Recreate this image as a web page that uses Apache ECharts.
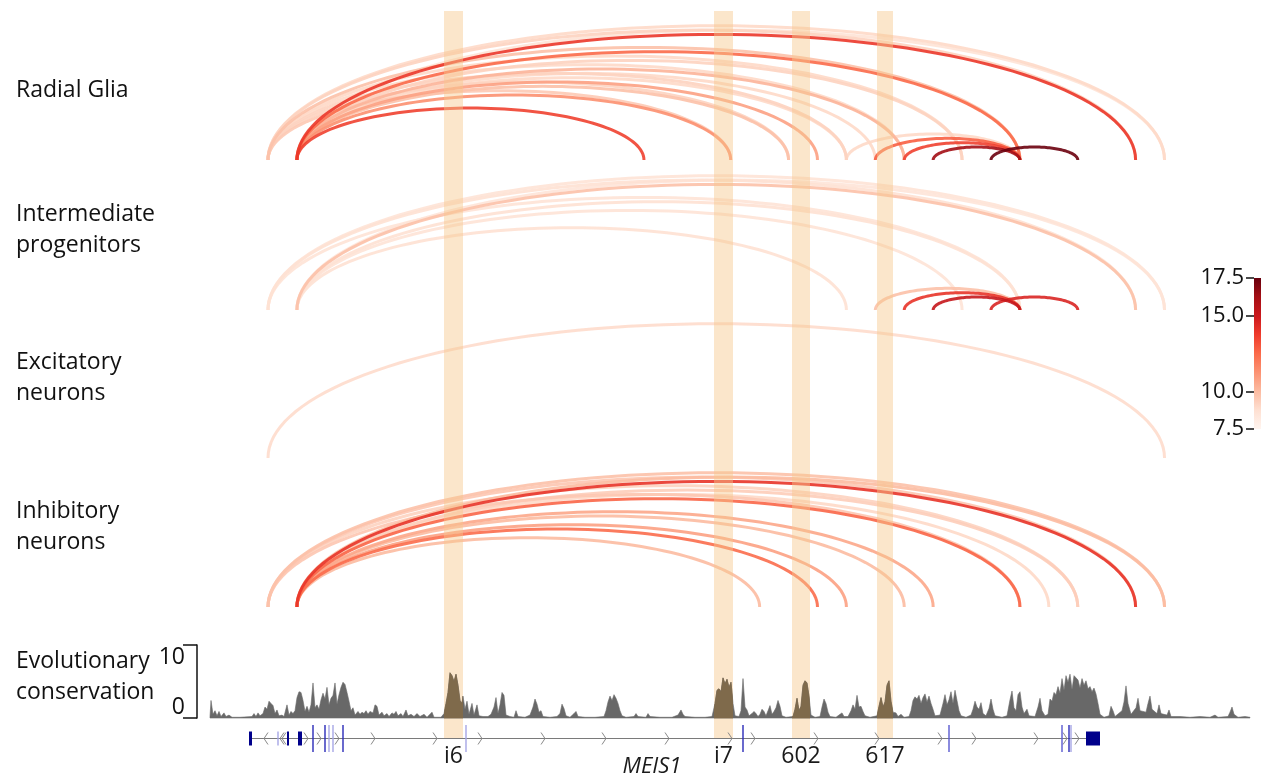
<!DOCTYPE html>
<html><head><meta charset="utf-8">
<script src="https://cdn.jsdelivr.net/npm/echarts@6/dist/echarts.min.js"></script>
<style>html,body{margin:0;padding:0;background:#fff}#c{width:1262px;height:782px}</style>
</head><body><div id="c"></div>
<script>
// ---------- data ----------
const FONT = '"Open Sans", sans-serif';
const PANEL_LABELS = ['Radial Glia', 'Intermediate\nprogenitors', 'Excitatory\nneurons', 'Inhibitory\nneurons'];
const TRACK_LABEL = 'Evolutionary\nconservation';
const GENE_NAME = 'MEIS1';

// region coordinates (relative units); arc anchors are bins
const REGION_MIN = 0, REGION_MAX = 1041;
const BIN_START = 58, BIN_WIDTH = 28.92;

// arcs: [startBin, endBin, score]
const ARCS_RG = [
  [0,31,9.0],[1,31,8.6],[0,30,9.2],[1,30,13.9],[0,26,9.8],[1,26,12.5],[0,24,9.0],[1,24,9.2],
  [0,22,9.0],[1,22,10.2],[1,21,9.0],[0,20,9.2],[1,20,9.0],[1,19,10.8],[0,18,9.2],[1,18,9.8],
  [0,16,9.5],[1,16,11.3],[1,13,13.6],[20,26,9.0],[21,26,12.8],[22,26,13.6],[23,26,16.3],[25,28,17.4]
];
const ARCS_IP = [
  [0,31,8.6],[1,31,8.5],[0,30,8.7],[1,30,9.8],[0,26,8.6],[1,26,8.7],[1,24,8.6],[1,20,8.7],
  [21,26,9.8],[22,26,14.0],[23,26,15.2],[25,28,14.5]
];
const ARCS_EX = [[0,31,8.9]];
const ARCS_IN = [
  [0,31,9.8],[1,31,10.0],[0,30,9.6],[1,30,14.0],[0,28,9.2],[1,28,9.4],[1,27,9.0],[0,26,9.6],
  [1,26,12.6],[1,23,10.6],[1,22,10.0],[1,20,10.8],[1,19,12.4],[1,17,10.0]
];

// highlighted elements: [start, end]
const BANDS = [[234,253],[504,523],[582,600],[667,683]];
const BAND_LABELS = ['i6','i7','602','617'];

// conservation track: [position, score]
const CONS = [
[0,0.2],[1,2.4],[3,0.5],[5,1.0],[7,0.3],[9,0.9],[11,0.2],[14,0.7],[16,0.2],[19,0.4],[22,0.1],[30,0.1],
[42,0.2],[44,0.6],[46,0.2],[48,0.7],[50,0.3],[53,0.6],[55,1.5],[57,1.2],[59,2.3],[61,2.0],[63,1.7],[65,0.6],
[67,1.1],[69,0.3],[72,0.4],[74,0.2],[77,1.8],[79,0.4],[81,0.9],[83,0.6],[85,1.0],[87,2.8],[89,3.6],[91,3.5],
[93,2.4],[95,0.9],[97,1.6],[99,0.8],[101,1.8],[103,4.8],[105,1.4],[107,1.8],[109,1.2],[111,2.5],[113,3.4],
[115,2.6],[117,4.2],[119,1.8],[121,2.7],[123,3.1],[125,4.8],[127,1.9],[129,3.2],[131,4.2],[133,4.9],[135,4.6],
[137,3.5],[139,2.3],[141,1.0],[143,1.4],[145,0.4],[148,0.9],[150,0.5],[152,0.8],[154,0.6],[156,1.0],[158,0.5],
[160,0.9],[163,0.7],[165,1.8],[167,1.6],[169,0.4],[172,0.8],[174,0.3],[177,0.6],[179,0.2],[182,0.7],[184,0.5],
[186,0.9],[188,0.3],[191,0.6],[193,0.2],[196,1.1],[198,0.3],[201,0.5],[204,0.2],[207,0.6],[210,0.2],[214,0.5],
[217,0.1],[222,0.8],[224,0.1],[231,0.1],[234,0.6],[236,2.0],[238,3.5],[240,6.2],[242,5.8],[244,5.0],[246,6.0],
[248,4.5],[250,2.4],[252,2.0],[253,3.0],[255,1.2],[257,2.3],[259,0.5],[262,2.0],[264,0.4],[267,1.8],[269,0.3],
[273,0.2],[278,0.2],[281,0.5],[284,1.5],[286,2.8],[288,0.6],[290,1.8],[292,3.5],[294,3.1],[296,0.4],[300,0.2],
[304,0.1],[306,1.0],[308,0.2],[315,0.1],[320,0.4],[323,1.5],[325,2.6],[327,1.9],[329,0.8],[331,1.0],[333,0.2],
[340,0.1],[347,0.2],[350,0.6],[352,1.9],[354,1.3],[356,0.3],[360,0.1],[364,0.6],[366,0.9],[368,0.2],[375,0.1],
[385,0.1],[394,0.2],[396,1.0],[398,2.2],[400,3.0],[402,2.4],[404,3.2],[406,2.7],[408,2.0],[410,1.0],[412,0.3],
[416,0.1],[424,0.2],[426,0.6],[428,0.2],[436,0.1],[438,0.6],[440,0.2],[450,0.1],[462,0.1],[468,0.4],[471,1.1],
[473,0.5],[475,0.2],[485,0.1],[495,0.1],[502,0.2],[505,2.0],[507,3.8],[509,4.0],[511,3.6],[513,5.5],[515,4.7],
[517,5.3],[519,4.2],[521,4.9],[523,2.0],[525,0.3],[529,0.2],[531,1.0],[533,5.4],[535,1.5],[537,1.1],[539,0.3],
[542,0.6],[544,0.9],[546,0.6],[548,0.2],[550,0.5],[552,1.2],[554,0.9],[556,0.3],[558,1.0],[560,1.7],[562,0.5],
[564,0.9],[566,1.4],[568,2.4],[570,1.6],[572,0.3],[576,0.1],[583,0.2],[585,1.2],[587,2.7],[589,1.0],[591,1.6],
[593,4.5],[595,5.1],[597,4.8],[599,3.0],[601,0.4],[605,0.1],[610,0.2],[612,1.5],[614,2.6],[616,2.0],[618,0.8],
[620,0.2],[626,0.1],[630,0.5],[632,0.7],[634,0.2],[638,0.2],[641,1.0],[643,1.8],[645,1.2],[647,3.1],[649,1.5],
[651,1.6],[653,0.9],[655,0.3],[660,0.1],[667,0.3],[669,1.6],[671,2.8],[673,1.5],[675,2.2],[677,4.5],[679,5.1],
[681,2.3],[683,0.8],[686,0.7],[688,0.2],[691,0.5],[694,0.1],[699,0.2],[701,1.0],[703,2.4],[705,2.9],[707,2.6],
[709,3.1],[711,2.0],[713,2.8],[715,3.3],[717,2.2],[719,3.0],[721,2.0],[723,1.2],[725,0.3],[730,0.4],[733,2.0],
[735,3.2],[737,1.8],[739,2.5],[741,3.6],[743,2.0],[745,3.8],[747,2.4],[749,1.0],[751,0.3],[756,0.1],[761,0.4],
[763,1.2],[765,2.3],[767,1.5],[769,1.2],[771,2.1],[773,0.6],[776,0.3],[779,1.3],[781,2.6],[783,1.2],[785,0.3],
[792,0.1],[797,0.3],[800,2.5],[802,3.7],[804,1.4],[806,1.0],[808,3.2],[810,3.6],[812,1.5],[814,0.6],[817,1.2],
[819,0.3],[825,0.2],[828,1.5],[830,2.7],[832,1.0],[835,0.3],[838,0.5],[840,2.6],[842,2.3],[844,3.5],[846,3.2],
[848,4.3],[850,3.4],[852,5.4],[854,3.8],[856,5.8],[858,4.9],[860,6.0],[862,3.9],[864,5.8],[866,5.5],[868,5.2],
[870,4.1],[872,5.4],[874,4.5],[876,5.1],[878,4.0],[880,4.3],[882,3.6],[884,4.1],[886,3.3],[888,2.0],[890,0.5],
[894,0.1],[899,0.3],[901,1.6],[903,1.0],[905,0.2],[912,1.0],[914,2.2],[916,4.4],[918,2.0],[921,0.5],[926,1.4],
[928,2.7],[930,1.0],[936,0.8],[938,2.0],[940,3.0],[942,1.2],[947,0.6],[949,1.8],[951,0.6],[957,0.4],[959,1.1],
[961,0.2],[970,0.2],[980,0.1],[990,0.2],[1000,0.1],[1005,0.4],[1008,0.1],[1018,0.2],[1020,0.8],[1022,1.5],
[1024,0.5],[1028,0.1],[1035,0.2],[1040,0.1]
];
const CONS_MIN = 0, CONS_MAX = 10, CONS_TICKS = [0, 10];

// gene model
const GENE_SPAN = [40, 888];
const GENE_EXONS = [[39,42],[77,79],[88,92],[876,890]];
const GENE_TALL = [[103,'d'],[115,'d'],[119,'l'],[123,'l'],[133,'d'],[256,'l'],[533,'d'],[739,'m'],[852,'m'],[859,'d'],[861,'l']];
const GENE_SHORT = [[68,'l']];
const GENE_CHEV_REV = [56,72,74];
const GENE_CHEV_FWD = [96,109,127,163,225,270,333,394,457,520,543,606,667,730,764,826,855,867];

// colour scale
const REDS = ['#fff5f0','#fee0d2','#fcbba1','#fc9272','#fb6a4a','#ef3b2c','#cb181d','#a50f15','#67000d'];
const CBAR_MIN = 7.5, CBAR_MAX = 17.5, CBAR_TICKS = [7.5, 10, 15, 17.5];

// ---------- helpers ----------
const ARC_Y_MAX = 34.4;
function binPos(k){ return BIN_START + k * BIN_WIDTH; }
function hex2rgb(h){ return [1,3,5].map(i => parseInt(h.slice(i, i+2), 16)); }
function reds(v){
  let t = (v - CBAR_MIN) / (CBAR_MAX - CBAR_MIN); t = Math.max(0, Math.min(1, t));
  const f = t * (REDS.length - 1); const i = Math.min(Math.floor(f), REDS.length - 2); const u = f - i;
  const a = hex2rgb(REDS[i]), b = hex2rgb(REDS[i+1]);
  return 'rgb(' + a.map((c, j) => Math.round(c + (b[j] - c) * u)).join(',') + ')';
}
const GENE_COL = {d:'#2a2ab8', m:'#5a5ad0', l:'#a6a6e6'};

function arcSeries(idx, arcs){
  return {
    type:'custom', xAxisIndex:idx, yAxisIndex:idx, z:1, silent:true,
    data: arcs.slice().sort((p, q) => p[2] - q[2]),
    renderItem(params, api){
      const a = api.value(0), b = api.value(1), v = api.value(2);
      const p1 = api.coord([binPos(a), 0]), p2 = api.coord([binPos(b), 0]);
      const pt = api.coord([binPos(a), (b - a)]);
      const ry = p1[1] - pt[1], rx = (p2[0] - p1[0]) / 2, cx = (p1[0] + p2[0]) / 2;
      const pts = [];
      const N = 80;
      for (let i = 0; i <= N; i++){
        const t = Math.PI * i / N;
        pts.push([cx - rx * Math.cos(t), p1[1] - ry * Math.sin(t)]);
      }
      return {type:'polyline', shape:{points:pts}, style:{stroke:reds(v), lineWidth:3, fill:null, opacity:0.9}};
    }
  };
}

// ---------- layout ----------
const L = 210, W = 1041;
const grids = [
  {left:L, width:W, top:11, height:149},
  {left:L, width:W, top:161, height:149},
  {left:L, width:W, top:309, height:149},
  {left:L, width:W, top:458, height:149},
  {left:L, width:W, top:645, height:73},
  {left:L, width:W, top:725, height:27},
  {left:L, width:W, top:11, height:727},
  {left:1254, width:7, top:278, height:151},
  {left:197, width:5, top:645, height:73}
];
const xAxes = grids.map((g, i) => ({gridIndex:i, type:'value', show:false,
  min: i >= 7 ? 0 : REGION_MIN, max: i >= 7 ? 1 : REGION_MAX}));
const hiddenY = (i, mn, mx) => ({gridIndex:i, type:'value', show:false, min:mn, max:mx});
const yAxes = [
  hiddenY(0, 0, ARC_Y_MAX), hiddenY(1, 0, ARC_Y_MAX), hiddenY(2, 0, ARC_Y_MAX), hiddenY(3, 0, ARC_Y_MAX),
  hiddenY(4, CONS_MIN, CONS_MAX),
  hiddenY(5, 0, 1), hiddenY(6, 0, 1),
  {gridIndex:7, type:'value', min:CBAR_MIN, max:CBAR_MAX, position:'left',
   axisLine:{show:false},
   axisTick:{show:true, customValues:CBAR_TICKS, length:8, lineStyle:{color:'#111', width:1.5}},
   axisLabel:{show:true, customValues:CBAR_TICKS, margin:10, color:'#111', fontFamily:FONT, fontSize:22,
     formatter: v => v.toFixed(1)},
   splitLine:{show:false}},
  {gridIndex:8, type:'value', min:CONS_MIN, max:CONS_MAX, position:'left',
   axisLine:{show:true, lineStyle:{color:'#111', width:1.5}},
   axisTick:{show:true, customValues:CONS_TICKS, length:14, inside:false, lineStyle:{color:'#111', width:1.5}},
   axisLabel:{show:true, customValues:CONS_TICKS, margin:12, color:'#111', fontFamily:FONT, fontSize:23,
     formatter: v => v === CONS_MAX ? '{t|' + v + '}' : '{b|' + v + '}',
     rich:{t:{fontSize:23, fontFamily:FONT, color:'#111', padding:[24,0,0,0]},
           b:{fontSize:23, fontFamily:FONT, color:'#111', padding:[0,0,22,0]}}},
   splitLine:{show:false}}
];

const series = [
  arcSeries(0, ARCS_RG), arcSeries(1, ARCS_IP), arcSeries(2, ARCS_EX), arcSeries(3, ARCS_IN),
  { // highlight bands
    type:'custom', xAxisIndex:6, yAxisIndex:6, z:2, silent:true, data:BANDS,
    renderItem(params, api){
      const tl = api.coord([api.value(0), 1]), br = api.coord([api.value(1), 0]);
      return {type:'rect', shape:{x:tl[0], y:tl[1], width:br[0]-tl[0], height:br[1]-tl[1]},
              style:{fill:'rgba(247,200,140,0.45)'}};
    }
  },
  { // conservation
    type:'custom', xAxisIndex:4, yAxisIndex:4, z:3, silent:true, data:[[0,0]],
    renderItem(params, api){
      const pts = [api.coord([CONS[0][0], 0])];
      CONS.forEach(d => pts.push(api.coord(d)));
      pts.push(api.coord([CONS[CONS.length-1][0], 0]));
      const cs = params.coordSys;
      const children = [{type:'polygon', shape:{points:pts}, style:{fill:'#686868', stroke:'#686868', lineWidth:0.6}}];
      BANDS.forEach(b => {
        const x1 = api.coord([b[0], 0])[0], x2 = api.coord([b[1], 0])[0];
        children.push({type:'polygon', shape:{points:pts}, style:{fill:'#7f6a4b', stroke:'#7f6a4b', lineWidth:0.6},
          clipPath:{type:'rect', shape:{x:x1, y:cs.y - 5, width:x2 - x1, height:cs.height + 10}}});
      });
      return {type:'group', children};
    }
  },
  { // gene model + labels
    type:'custom', xAxisIndex:5, yAxisIndex:5, z:4, silent:true, data:[[0,0]],
    renderItem(params, api){
      const ch = [];
      const mid = api.coord([0, 0.5])[1], top = api.coord([0, 1])[1], bot = api.coord([0, 0])[1];
      const s = api.coord([GENE_SPAN[0], 0.5]), e = api.coord([GENE_SPAN[1], 0.5]);
      ch.push({type:'line', shape:{x1:s[0], y1:mid, x2:e[0], y2:mid}, style:{stroke:'#7a7a7a', lineWidth:1}});
      GENE_CHEV_FWD.forEach(p => { const x = api.coord([p, 0])[0];
        ch.push({type:'polyline', shape:{points:[[x-2, mid-6],[x+2, mid],[x-2, mid+6]]}, style:{stroke:'#8a8a8a', lineWidth:1, fill:null}}); });
      GENE_CHEV_REV.forEach(p => { const x = api.coord([p, 0])[0];
        ch.push({type:'polyline', shape:{points:[[x+2, mid-6],[x-2, mid],[x+2, mid+6]]}, style:{stroke:'#8a8a8a', lineWidth:1, fill:null}}); });
      GENE_TALL.forEach(d => { const x = api.coord([d[0], 0])[0];
        ch.push({type:'line', shape:{x1:x, y1:top, x2:x, y2:bot}, style:{stroke:GENE_COL[d[1]], lineWidth:1.4}}); });
      GENE_SHORT.forEach(d => { const x = api.coord([d[0], 0])[0];
        ch.push({type:'line', shape:{x1:x, y1:mid-7, x2:x, y2:mid+7}, style:{stroke:GENE_COL[d[1]], lineWidth:1.4}}); });
      GENE_EXONS.forEach(d => { const a = api.coord([d[0], 0])[0], b = api.coord([d[1], 0])[0];
        ch.push({type:'rect', shape:{x:a, y:mid-7, width:Math.max(2, b-a), height:14}, style:{fill:'#00008b'}}); });
      BANDS.forEach((b, i) => { const x = api.coord([(b[0]+b[1])/2, 0])[0];
        ch.push({type:'text', x:x, y:bot + 4, style:{text:BAND_LABELS[i], font:'23px ' + FONT, fill:'#1a1a1a',
          align:'center', verticalAlign:'middle', textAlign:'center', textVerticalAlign:'middle'}}); });
      return {type:'group', children:ch};
    }
  },
  { // colour bar
    type:'custom', xAxisIndex:7, yAxisIndex:7, z:3, silent:true, data:[[0, CBAR_MIN]],
    renderItem(params, api){
      const cs = params.coordSys;
      const t = api.coord([0, CBAR_MAX])[1], b = api.coord([0, CBAR_MIN])[1];
      const stops = REDS.map((c, i) => ({offset: i / (REDS.length - 1), color: c}));
      return {type:'rect', shape:{x:cs.x, y:t, width:cs.width, height:b - t},
              style:{fill:new echarts.graphic.LinearGradient(0, 1, 0, 0, stops)}};
    }
  }
];

const labelY = [90, 230, 378, 527];
const graphic = PANEL_LABELS.map((t, i) => ({type:'text', x:16, y:labelY[i],
  style:{text:t, font:'23px ' + FONT, fill:'#111', lineHeight:31, verticalAlign:'middle', textVerticalAlign:'middle'}}));
graphic.push({type:'text', x:16, y:677, style:{text:TRACK_LABEL, font:'23px ' + FONT, fill:'#111', lineHeight:31, verticalAlign:'middle', textVerticalAlign:'middle'}});
graphic.push({type:'text', x:652, y:767, style:{text:GENE_NAME, font:'italic 22px ' + FONT, fill:'#1a1a1a', align:'center', verticalAlign:'middle', textAlign:'center', textVerticalAlign:'middle'}});

const chart = echarts.init(document.getElementById('c'), null, {renderer:'canvas'});
chart.setOption({animation:false, backgroundColor:'#fff', grid:grids, xAxis:xAxes, yAxis:yAxes, series, graphic});
</script></body></html>
